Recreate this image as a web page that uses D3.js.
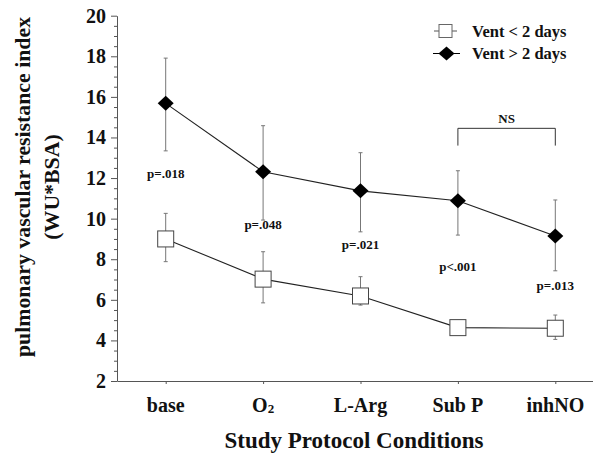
<!DOCTYPE html>
<html>
<head>
<meta charset="utf-8">
<script src="https://cdn.jsdelivr.net/npm/d3@7"></script>
<style>
  body { margin: 0; background: #fff; }
  svg text { font-family: "Liberation Serif", "Times New Roman", serif; font-weight: bold; fill: #111; }
</style>
</head>
<body>
<svg id="chart" width="593" height="454"></svg>
<script>
// conditions on the x axis
const Categories = ["base", "O2", "L-Arg", "Sub P", "inhNO"];

// Vent > 2 days (filled diamonds)
const LongMean  = [15.68, 12.31, 11.37, 10.88, 9.14];
const LongUpper = [17.91, 14.58, 13.25, 12.36, 10.92];
const LongLower = [13.34, 9.93, 9.35, 9.19, 7.43];

// Vent < 2 days (open squares)
const ShortMean  = [9.0, 7.02, 6.19, 4.63, 4.6];
const ShortUpper = [10.26, 8.37, 7.14, 4.8, 5.25];
const ShortLower = [7.88, 5.85, 5.74, 4.45, 4.05];

// p-values between the groups, and their value position
const PLabels = ["p=.018", "p=.048", "p=.021", "p<.001", "p=.013"];
const PValues = [12.0, 9.5, 8.5, 7.4, 6.5];

const YTicks = [2, 4, 6, 8, 10, 12, 14, 16, 18, 20];

const Width = 593, Height = 454;
const MarginLeft = 117, PlotRight = 604, PlotTop = 15.7, PlotBottom = 381;

const SVG = d3.select("#chart");

const X = d3.scalePoint()
  .domain(Categories)
  .range([MarginLeft, PlotRight])
  .padding(0.5);

const Y = d3.scaleLinear()
  .domain([2, 20])
  .range([PlotBottom, PlotTop]);

// y axis with minor ticks every 0.5
const MinorTicks = d3.range(2, 20.01, 0.5).filter(v => !YTicks.includes(v));
SVG.append("g")
  .attr("transform", `translate(${MarginLeft},0)`)
  .call(d3.axisLeft(Y).tickValues(MinorTicks).tickSize(3).tickFormat(""))
  .call(g => g.select(".domain").remove())
  .call(g => g.selectAll("line").attr("stroke", "#555"));

SVG.append("g")
  .attr("transform", `translate(${MarginLeft},0)`)
  .call(d3.axisLeft(Y).tickValues(YTicks).tickSize(6).tickSizeOuter(0).tickPadding(5))
  .call(g => g.select(".domain").attr("stroke", "#555"))
  .call(g => g.selectAll("line").attr("stroke", "#555"))
  .call(g => g.selectAll("text")
    .style("font-size", "20px")
    .style("font-family", "'Liberation Serif', serif")
    .style("font-weight", "bold")
    .attr("fill", "#111"));

// x axis
SVG.append("g")
  .attr("transform", `translate(0,${PlotBottom})`)
  .call(d3.axisBottom(X).tickSize(3).tickSizeOuter(0).tickFormat(""))
  .call(g => g.select(".domain").attr("stroke", "#555"))
  .call(g => g.selectAll("line").attr("stroke", "#555"));

const XLabels = SVG.append("g")
  .selectAll("text")
  .data(Categories)
  .join("text")
  .attr("x", d => X(d))
  .attr("y", 412)
  .attr("text-anchor", "middle")
  .style("font-size", "20px");
XLabels.each(function(d) {
  const T = d3.select(this);
  if (d === "O2") {
    T.append("tspan").text("O");
    T.append("tspan").text("2").style("font-size", "13px").attr("dy", 1);
  } else {
    T.text(d);
  }
});

// axis titles
SVG.append("text")
  .attr("x", 354)
  .attr("y", 448)
  .attr("text-anchor", "middle")
  .style("font-size", "23px")
  .text("Study Protocol Conditions");

SVG.append("text")
  .attr("transform", "translate(30,187) rotate(-90)")
  .attr("text-anchor", "middle")
  .style("font-size", "21.8px")
  .text("pulmonary vascular resistance index");

SVG.append("text")
  .attr("transform", "translate(59,187) rotate(-90)")
  .attr("text-anchor", "middle")
  .style("font-size", "21.8px")
  .text("(WU*BSA)");

// error bars
function ErrorBars(Upper, Lower) {
  const G = SVG.append("g").attr("stroke", "#777").attr("stroke-width", 1);
  Categories.forEach((c, i) => {
    const Cx = X(c);
    G.append("line").attr("x1", Cx).attr("x2", Cx).attr("y1", Y(Upper[i])).attr("y2", Y(Lower[i]));
    G.append("line").attr("x1", Cx - 2).attr("x2", Cx + 2).attr("y1", Y(Upper[i])).attr("y2", Y(Upper[i]));
    G.append("line").attr("x1", Cx - 2).attr("x2", Cx + 2).attr("y1", Y(Lower[i])).attr("y2", Y(Lower[i]));
  });
}
ErrorBars(LongUpper, LongLower);
ErrorBars(ShortUpper, ShortLower);

// connecting lines
const LineGen = d3.line()
  .x((d, i) => X(Categories[i]))
  .y(d => Y(d));

SVG.append("path")
  .datum(LongMean)
  .attr("d", LineGen)
  .attr("fill", "none")
  .attr("stroke", "#222")
  .attr("stroke-width", 1.1);

SVG.append("path")
  .datum(ShortMean)
  .attr("d", LineGen)
  .attr("fill", "none")
  .attr("stroke", "#222")
  .attr("stroke-width", 1.1);

// markers
const Diamond = "M0,-7.5L8,0L0,7.5L-8,0Z";

SVG.append("g")
  .selectAll("path")
  .data(LongMean)
  .join("path")
  .attr("transform", (d, i) => `translate(${X(Categories[i])},${Y(d)})`)
  .attr("d", Diamond)
  .attr("fill", "#000");

SVG.append("g")
  .selectAll("rect")
  .data(ShortMean)
  .join("rect")
  .attr("x", (d, i) => X(Categories[i]) - 8)
  .attr("y", d => Y(d) - 8)
  .attr("width", 16)
  .attr("height", 16)
  .attr("fill", "#fff")
  .attr("stroke", "#444")
  .attr("stroke-width", 1);

// p-value labels
SVG.append("g")
  .selectAll("text")
  .data(PLabels)
  .join("text")
  .attr("x", (d, i) => X(Categories[i]))
  .attr("y", (d, i) => Y(PValues[i]))
  .attr("text-anchor", "middle")
  .style("font-size", "13px")
  .text(d => d);

// NS bracket between Sub P and inhNO
const BracketTop = Y(14.45), BracketFoot = Y(13.6);
SVG.append("path")
  .attr("d", `M${X("Sub P")},${BracketFoot}V${BracketTop}H${X("inhNO")}V${BracketFoot}`)
  .attr("fill", "none")
  .attr("stroke", "#333")
  .attr("stroke-width", 1);
SVG.append("text")
  .attr("x", (X("Sub P") + X("inhNO")) / 2)
  .attr("y", BracketTop - 5)
  .attr("text-anchor", "middle")
  .style("font-size", "13px")
  .text("NS");

// legend
const Legend = SVG.append("g");
Legend.append("line").attr("x1", 434).attr("x2", 457).attr("y1", 31).attr("y2", 31).attr("stroke", "#555");
Legend.append("rect").attr("x", 439).attr("y", 24.5).attr("width", 13).attr("height", 13)
  .attr("fill", "#fff").attr("stroke", "#666");
Legend.append("text").attr("x", 472).attr("y", 37).style("font-size", "16.5px").text("Vent < 2 days");

Legend.append("line").attr("x1", 433).attr("x2", 460).attr("y1", 53.5).attr("y2", 53.5).attr("stroke", "#000");
Legend.append("path").attr("transform", "translate(446.5,53.5)").attr("d", "M0,-7L8,0L0,7L-8,0Z").attr("fill", "#000");
Legend.append("text").attr("x", 472).attr("y", 59).style("font-size", "16.5px").text("Vent > 2 days");
</script>
</body>
</html>
